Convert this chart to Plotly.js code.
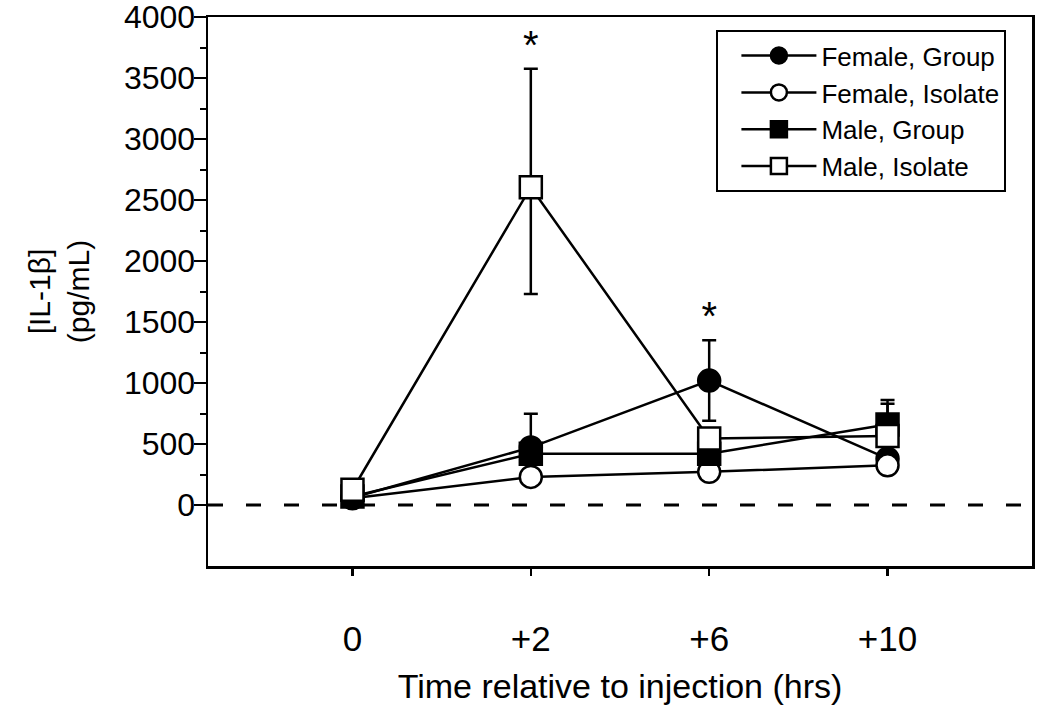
<!DOCTYPE html>
<html>
<head>
<meta charset="utf-8">
<script src="https://cdn.plot.ly/plotly-3.0.1.min.js"></script>
<style>html,body{margin:0;padding:0;background:#fff;}#chart{width:1050px;height:715px;}</style>
</head>
<body>
<div id="chart"></div>
<script>
// ---- data ----
const times = ['0', '+2', '+6', '+10'];
const seriesNames = ['Female, Group', 'Female, Isolate', 'Male, Group', 'Male, Isolate'];

const femaleGroup        = [60, 472, 1020, 380];
const femaleGroupErrUp   = [0, 275, 330, 0];
const femaleGroupErrDown = [0, 0, 330, 0];

const femaleIsolate        = [55, 230, 272, 325];
const femaleIsolateErrUp   = [0, 0, 0, 0];
const femaleIsolateErrDown = [0, 0, 0, 0];

const maleGroup        = [70, 420, 420, 660];
const maleGroupErrUp   = [0, 0, 0, 200];
const maleGroupErrDown = [0, 0, 0, 0];

const maleIsolate        = [125, 2605, 545, 565];
const maleIsolateErrUp   = [0, 970, 0, 265];
const maleIsolateErrDown = [0, 875, 0, 0];

const sigTimes = ['+2', '+6'];
const sigTops  = [maleIsolate[1] + maleIsolateErrUp[1], femaleGroup[2] + femaleGroupErrUp[2]];

const yTicks = [0, 500, 1000, 1500, 2000, 2500, 3000, 3500, 4000];
const yMinorTicks = [250, 750, 1250, 1750, 2250, 2750, 3250, 3750];

// ---- styling ----
const FONT = 'Liberation Sans, Arial, Helvetica, sans-serif';
const LW = 2.5;

function series(name, y, up, down, symbol, fill) {
  return {
    type: 'scatter', mode: 'lines+markers', name: name,
    x: times, y: y,
    line: {color: '#000', width: LW},
    marker: {symbol: symbol, size: 22, color: fill, line: {color: '#000', width: LW}},
    error_y: {type: 'data', symmetric: false, array: up, arrayminus: down,
              color: '#000', thickness: LW, width: 7},
    cliponaxis: false
  };
}

const traces = [
  series(seriesNames[0], femaleGroup, femaleGroupErrUp, femaleGroupErrDown, 'circle', '#000'),
  series(seriesNames[1], femaleIsolate, femaleIsolateErrUp, femaleIsolateErrDown, 'circle', '#fff'),
  series(seriesNames[2], maleGroup, maleGroupErrUp, maleGroupErrDown, 'square', '#000'),
  series(seriesNames[3], maleIsolate, maleIsolateErrUp, maleIsolateErrDown, 'square', '#fff'),
  {
    type: 'scatter', mode: 'text', x: sigTimes, y: sigTops,
    text: sigTimes.map(() => '*'), textposition: 'top center',
    textfont: {family: FONT, size: 40, color: '#000'},
    showlegend: false, hoverinfo: 'skip', cliponaxis: false
  }
];

const layout = {
  width: 1050, height: 715,
  margin: {l: 208, r: 18, t: 17, b: 149},
  paper_bgcolor: '#fff', plot_bgcolor: '#fff',
  font: {family: FONT, color: '#000'},
  showlegend: true,
  legend: {
    x: 0.617, y: 0.976, xanchor: 'left', yanchor: 'top',
    bgcolor: '#fff', bordercolor: '#000', borderwidth: 2,
    font: {family: FONT, size: 26, color: '#000'},
    itemwidth: 75, indentation: 18, tracegroupgap: 0
  },
  xaxis: {
    type: 'category', range: [-0.81, 3.81],
    showline: true, linecolor: '#000', linewidth: LW, mirror: true,
    ticks: 'outside', ticklen: 7, tickwidth: LW, tickcolor: '#000',
    tickfont: {family: FONT, size: 35, color: '#000'},
    ticklabelstandoff: 33,
    showgrid: false, zeroline: false, automargin: false,
    title: {text: 'Time relative to injection (hrs)', font: {family: FONT, size: 34, color: '#000'}, standoff: 18}
  },
  yaxis: {
    range: [-500, 4000],
    tickmode: 'array', tickvals: yTicks,
    showline: true, linecolor: '#000', linewidth: LW, mirror: true,
    ticks: 'outside', ticklen: 12, tickwidth: LW, tickcolor: '#000',
    tickfont: {family: FONT, size: 32, color: '#000'},
    ticklabelstandoff: -8, ticklabeloverflow: 'allow',
    minor: {tickmode: 'array', tickvals: yMinorTicks, ticks: 'outside', ticklen: 6, tickwidth: 2, tickcolor: '#000', showgrid: false},
    showgrid: false, zeroline: false, automargin: false,
    title: {text: '[IL-1β]<br>(pg/mL)', font: {family: FONT, size: 30, color: '#000'}, standoff: 26}
  },
  shapes: [{
    type: 'line', xref: 'paper', x0: 0, x1: 1, yref: 'y', y0: 0, y1: 0,
    line: {color: '#000', width: 3, dash: '15px,23px'}, layer: 'below'
  }]
};

Plotly.newPlot('chart', traces, layout, {displayModeBar: false, staticPlot: true});
</script>
</body>
</html>
